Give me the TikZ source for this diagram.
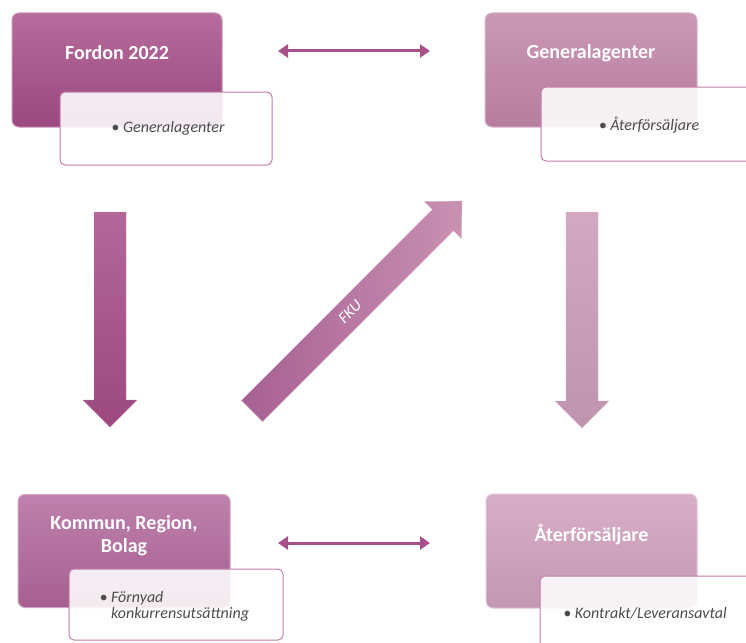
\documentclass[tikz,border=0pt]{standalone}
\usepackage{fontspec}
\setmainfont{Carlito}
\usetikzlibrary{positioning,calc,arrows.meta}

\definecolor{plumdark}{HTML}{A54C87}
\definecolor{plummid}{HTML}{B0659A}
\definecolor{plumsoft}{HTML}{C285A9}
\definecolor{plumpale}{HTML}{D0A0BE}
\definecolor{plumline}{HTML}{A8508A}
\definecolor{plumedge}{HTML}{C27DAA}

\begin{document}
\begin{tikzpicture}[x=1pt, y=-1pt]
        \tikzstyle{mainbox}=[rectangle, rounded corners=7pt, minimum width=210pt, minimum height=114pt, line width=1pt];
        \tikzstyle{subbox}=[rectangle, rounded corners=5pt, minimum width=213pt, minimum height=73pt, draw=plumedge, line width=1pt, fill=white, fill opacity=0.88];
        \tikzstyle{boxtitle}=[text=white, align=center, font=\fontsize{20}{23}\selectfont\bfseries];
        \tikzstyle{itemtext}=[text=black!70, align=left, font=\fontsize{16}{16}\selectfont\itshape];
        \tikzstyle{link}=[line width=3pt, plumline, {Triangle[length=10pt, width=13pt]}-{Triangle[length=10pt, width=13pt]}];

        \clip (0, 0) rectangle (746, 642);

        \node[mainbox, draw=plumdark!60!white, top color=plumdark!82!white, bottom color=plumdark!94!black] (fordon) at (117, 70) {};
        \node[mainbox, draw=plumsoft!60!white, top color=plumsoft!85!white, bottom color=plumsoft!94!black, minimum width=212pt] (general) at (591, 70) {};
        \node[mainbox, draw=plummid!60!white, top color=plummid!82!white, bottom color=plummid!94!black, minimum width=212pt, minimum height=113pt] (kommun) at (124, 551) {};
        \node[mainbox, draw=plumpale!60!white, top color=plumpale!85!white, bottom color=plumpale!94!black, minimum width=211pt] (ater) at (591.5, 551) {};

        \node[boxtitle] (fordonT) at ([yshift=17pt]fordon.center) {Fordon 2022};
        \node[boxtitle] (generalT) at ([yshift=17pt]general.center) {Generalagenter};
        \node[boxtitle] (kommunT) at ([yshift=15pt]kommun.center) {Kommun, Region,\\Bolag};
        \node[boxtitle] (aterT) at ([yshift=16pt]ater.center) {Återförsäljare};

        \node[subbox, minimum width=212pt] (fordonS) at (166, 128.5) {};
        \node[subbox, minimum width=218pt, minimum height=74pt] (generalS) at (650, 124) {};
        \node[subbox, minimum width=214pt, minimum height=71pt] (kommunS) at (176, 604.5) {};
        \node[subbox, minimum width=220pt, minimum height=72pt] (aterS) at (650, 612) {};

        \node[itemtext] (fordonI) at (168, 128) {\textbullet\ Generalagenter};
        \node[itemtext] (generalI) at (649, 125) {\textbullet\ Återförsäljare};
        \node[itemtext, anchor=west] (kommunI) at (96, 606) {\textbullet\ Förnyad\\\phantom{\textbullet\ }konkurrensutsättning};
        \node[itemtext] (aterI) at (645, 613) {\textbullet\ Kontrakt/Leveransavtal};

        \coordinate (topL) at (278, 51);
        \coordinate (topR) at (430, 51);
        \coordinate (botL) at (278, 543);
        \coordinate (botR) at (430, 543);
        \draw[link] (topL) -- (topR);
        \draw[link] (botL) -- (botR);

        \path[top color=plumdark!85!white, bottom color=plumdark!95!black, draw=plumdark!70!white] (94, 212) -- (126, 212) -- (126, 400) -- (137, 400) -- (110, 427) -- (83, 400) -- (94, 400) -- cycle;
        \path[top color=plumpale!92!white, bottom color=plumpale!92!black, draw=plumpale!70!white] (566, 212) -- (598, 212) -- (598, 401) -- (609, 401) -- (582, 428) -- (555, 401) -- (566, 401) -- cycle;

        \begin{scope}[shift={(252, 411)}, rotate=45]
            \path[left color=plummid!95!black, right color=plumsoft!90!white, draw=plumsoft!70!white] (0, 15) -- (270, 15) -- (270, 26) -- (297, 0) -- (270, -26) -- (270, -15) -- (0, -15) -- cycle;
        \end{scope}
        \node[text=white, rotate=45, font=\fontsize{16}{16}\selectfont\itshape] (fku) at (350, 312) {FKU};
\end{tikzpicture}
\end{document}
